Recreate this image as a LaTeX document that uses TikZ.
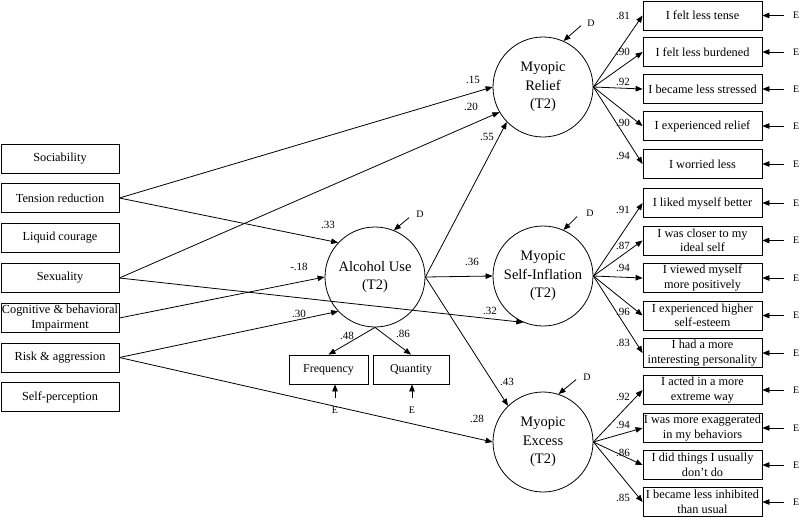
\documentclass[tikz,border=0pt]{standalone}
\usepackage{fontspec}
\setmainfont{Liberation Serif}
\usetikzlibrary{arrows.meta}
\begin{document}
\begin{tikzpicture}[x=1pt,y=-1pt,
 arr/.style={-{Triangle[length=7pt,width=5.5pt]}, line width=0.8pt},
 lbox/.style={draw, line width=0.8pt, minimum width=118pt, minimum height=29pt, inner sep=0pt, font=\fontsize{12.3}{14.5}\selectfont, align=center},
 rbox/.style={lbox, minimum width=119pt},
 sbox/.style={lbox, font=\fontsize{12}{14}\selectfont},
 lat/.style={circle, draw, line width=0.8pt, minimum size=100pt, inner sep=0pt, font=\fontsize{14.5}{18.5}\selectfont, align=center},
 lab/.style={font=\fontsize{11}{13}\selectfont, inner sep=0pt},
 small/.style={font=\fontsize{10}{12}\selectfont, inner sep=0pt}]
\useasboundingbox (0,0) rectangle (800,517);

% left boxes
\node[lbox] (soc) at (60,158.5) {Sociability};
\node[lbox] (tens) at (60,198) {Tension reduction};
\node[lbox] (liq) at (60,238) {Liquid courage};
\node[lbox] (sex) at (60,278) {Sexuality};
\node[lbox] (cog) at (60,318) {Cognitive \& behavioral\\Impairment};
\node[lbox] (risk) at (60,357.5) {Risk \& aggression};
\node[lbox] (selfp) at (60,397) {Self-perception};

% latent variables
\node[lat] (alc) at (375,277) {Alcohol Use\\(T2)};
\node[lat] (relief) at (543,87) {Myopic\\Relief\\(T2)};
\node[lat] (si) at (543,276) {Myopic\\Self-Inflation\\(T2)};
\node[lat] (ex) at (543,442) {Myopic\\Excess\\(T2)};

% indicators of alcohol use
\node[sbox, minimum width=79pt] (freq) at (328.5,369.5) {Frequency};
\node[sbox, minimum width=76pt] (quant) at (411,369.5) {Quantity};
\node[small] (ef) at (335,410) {E};
\node[small] (eq) at (412,410) {E};
\draw[arr] ([yshift=9pt]ef.north) -- (ef.north |- freq.south);
\draw[arr] ([yshift=9pt]eq.north) -- (eq.north |- quant.south);
\draw[arr] (alc.south) -- (freq.north);
\draw[arr] (alc.south) -- (quant.north);
\node[lab] at (347,336) {.48};
\node[lab] at (403,334) {.86};

% right boxes
\foreach \n/\y/\t in {
 r1/15.5/{I felt less tense},
 r2/52/{I felt less burdened},
 r3/89/{I became less stressed},
 r4/126/{I experienced relief},
 r5/164/{I worried less},
 r6/203/{I liked myself better},
 r7/240.5/{I was closer to my\\ideal self},
 r8/278/{I viewed myself\\more positively},
 r9/315.5/{I experienced higher\\self-esteem},
 r10/353/{I had a more\\interesting personality},
 r11/390/{I acted in a more\\extreme way},
 r12/428/{I was more exaggerated\\in my behaviors},
 r13/465/{I did things I usually\\don’t do},
 r14/502/{I became less inhibited\\than usual}}
{
 \node[rbox] (\n) at (702.5,\y) {\t};
 \node[small, anchor=west] (e\n) at (793,\y) {E};
 \draw[arr] ([xshift=-9pt]e\n.west) -- (\n.east);
}

% loadings
\foreach \r in {r1,r2,r3,r4,r5} {\draw[arr] (relief.east) -- (\r.west);}
\foreach \r in {r6,r7,r8,r9,r10} {\draw[arr] (si.east) -- (\r.west);}
\foreach \r in {r11,r12,r13,r14} {\draw[arr] (ex.east) -- (\r.west);}
\foreach \v/\y in {.81/16,.90/52,.92/82,.90/123,.94/156,.91/210,.87/246,.94/268,.96/312,.83/343,.92/397,.94/425,.86/453,.85/498}
 {\node[lab] at (623,\y) {\v};}

% structural paths
\draw[arr] (tens.east) -- (relief.west);
\draw[arr] (sex.east) -- (relief.210);
\draw[arr] (alc.east) -- (relief.224);
\draw[arr] (tens.east) -- (alc.137);
\draw[arr] (cog.east) -- (alc.west);
\draw[arr] (risk.east) -- (alc.223);
\draw[arr] (sex.east) -- (si.247);
\draw[arr] (alc.east) -- (si.west);
\draw[arr] (alc.east) -- (ex.134);
\draw[arr] (risk.east) -- (ex.west);

\node[lab] at (473,80) {.15};
\node[lab] at (471,107) {.20};
\node[lab] at (487,137) {.55};
\node[lab] at (328,225) {.33};
\node[lab] at (299,267) {-.18};
\node[lab] at (299,314) {.30};
\node[lab] at (472,262) {.36};
\node[lab] at (490,311) {.32};
\node[lab] at (507,382) {.43};
\node[lab] at (477,419) {.28};

% disturbances
\node[small] (dA) at (420,214) {D};
\node[small] (dR) at (591,23) {D};
\node[small] (dS) at (590,213) {D};
\node[small] (dE) at (587,377) {D};
\draw[arr] ([xshift=-7pt]dA.south west) -- (alc.68);
\draw[arr] ([xshift=-6pt,yshift=1pt]dR.south west) -- (relief.66);
\draw[arr] ([xshift=-9pt]dS.south west) -- (si.66);
\draw[arr] ([xshift=-7pt,yshift=1pt]dE.south west) -- (ex.72);
\end{tikzpicture}
\end{document}
